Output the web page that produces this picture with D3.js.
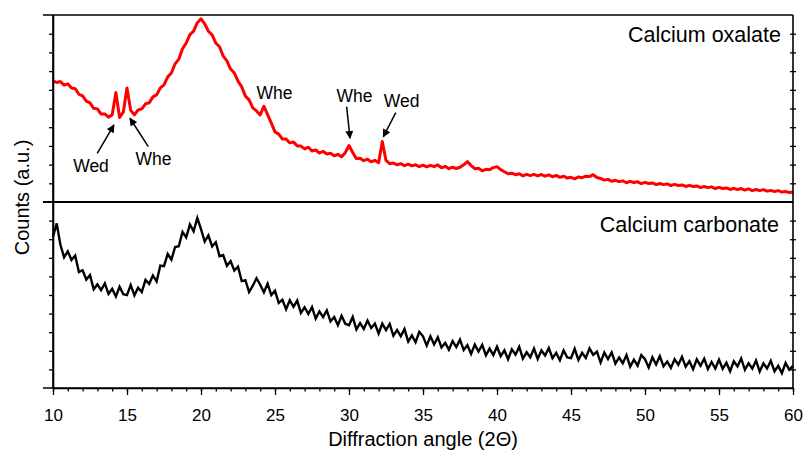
<!DOCTYPE html>
<html>
<head>
<meta charset="utf-8">
<script src="https://cdnjs.cloudflare.com/ajax/libs/d3/7.8.5/d3.min.js"></script>
<style>
  body { margin: 0; background: #fff; }
  svg { display: block; font-family: "Liberation Sans", Arial, sans-serif; }
</style>
</head>
<body>
<div id="chart"></div>
<script>
// XRD scans, 10-60 deg in 0.25 deg steps, intensity in a.u. (0-100 per panel)
const angleStart = 10, angleStep = 0.25;

const oxalateCounts = [
  64.8, 63.9, 64.4, 62.5, 63.2, 61.0, 60.6, 57.6, 56.8, 53.9, 53.0, 50.1, 49.8, 47.0, 47.1, 45.4, 46.6, 58.5, 45.2, 48.0,
  61.0, 49.0, 46.6, 49.2, 49.8, 52.5, 53.0, 56.2, 57.3, 61.0, 62.6, 66.9, 69.0, 73.9, 76.4, 81.9, 85.0, 89.5, 91.4, 95.9,
  98.0, 95.3, 91.3, 89.4, 85.0, 83.0, 78.0, 75.5, 71.1, 69.0, 64.6, 61.6, 56.6, 54.6, 50.3, 48.7, 46.6, 51.2, 46.7, 42.2,
  37.5, 36.3, 33.7, 33.7, 31.6, 32.1, 30.0, 29.9, 28.4, 29.3, 27.3, 27.8, 26.2, 27.1, 25.7, 26.1, 24.7, 25.5, 24.2, 26.4,
  30.2, 26.5, 23.2, 23.4, 22.1, 22.9, 21.5, 22.3, 21.0, 32.4, 22.2, 20.5, 20.8, 19.9, 20.5, 19.4, 20.2, 19.3, 19.9, 18.9,
  19.7, 18.8, 19.6, 18.9, 19.8, 18.3, 19.1, 17.8, 18.6, 17.9, 18.6, 19.9, 21.6, 19.5, 17.8, 18.0, 16.7, 17.5, 17.2, 18.4,
  18.9, 17.3, 16.2, 15.1, 15.4, 14.6, 15.1, 14.0, 14.8, 14.1, 14.8, 14.0, 14.7, 13.8, 14.5, 13.5, 14.2, 13.2, 13.8, 12.8,
  13.2, 12.4, 13.4, 13.0, 13.8, 13.6, 14.6, 13.1, 12.6, 11.7, 12.1, 11.1, 11.6, 10.9, 11.3, 10.3, 11.0, 10.4, 10.8, 9.8,
  10.5, 9.9, 10.2, 9.3, 9.9, 9.3, 9.7, 8.8, 9.4, 8.8, 9.1, 8.3, 8.9, 8.3, 8.6, 7.7, 8.3, 7.7, 8.1, 7.2,
  7.8, 7.2, 7.5, 6.7, 7.3, 6.7, 7.2, 6.4, 7.0, 6.1, 6.7, 6.1, 6.6, 5.8, 6.2, 5.6, 6.1, 5.3, 5.6, 5.1,
  5.4
];

const carbonateCounts = [
  81.3, 88.5, 77.0, 70.3, 73.5, 68.8, 71.2, 62.4, 63.3, 58.3, 60.7, 53.1, 55.7, 52.6, 56.2, 50.6, 53.3, 49.2, 54.4, 50.4,
  49.9, 55.4, 49.8, 53.9, 51.6, 58.1, 56.0, 60.5, 57.3, 65.8, 65.5, 72.1, 69.0, 75.8, 76.2, 83.9, 80.9, 88.0, 84.3, 91.5,
  85.4, 78.7, 82.1, 76.1, 78.4, 70.9, 71.5, 65.7, 68.2, 63.1, 65.2, 57.5, 58.0, 51.6, 55.0, 59.0, 55.5, 51.4, 56.1, 50.0,
  52.3, 45.7, 47.4, 42.3, 47.2, 43.6, 47.0, 40.4, 43.4, 39.8, 43.5, 37.3, 41.2, 38.1, 41.7, 35.8, 38.2, 33.8, 38.8, 34.5,
  33.8, 38.2, 31.5, 34.9, 31.7, 36.3, 32.3, 34.6, 29.3, 34.6, 31.1, 34.5, 28.1, 31.2, 27.8, 31.7, 25.0, 28.3, 24.6, 30.2,
  27.8, 22.8, 27.8, 23.4, 27.3, 21.8, 24.2, 20.6, 25.2, 22.0, 26.0, 20.4, 23.0, 18.3, 23.3, 19.6, 23.2, 17.6, 21.2, 17.7,
  22.2, 17.1, 20.2, 15.5, 20.8, 17.9, 22.1, 15.8, 19.2, 16.5, 21.2, 15.6, 20.2, 17.5, 21.5, 16.0, 18.9, 14.9, 20.2, 16.4,
  16.0, 21.1, 15.1, 18.9, 16.1, 21.3, 17.8, 19.6, 13.7, 19.0, 15.5, 19.1, 13.1, 16.4, 13.3, 17.7, 11.5, 15.2, 12.0, 17.7,
  15.5, 11.0, 16.5, 12.6, 17.1, 11.7, 14.2, 10.8, 15.5, 12.5, 16.8, 11.5, 14.4, 10.1, 15.4, 11.9, 15.7, 10.2, 14.0, 10.5,
  15.2, 10.3, 13.6, 9.0, 14.4, 11.6, 15.9, 9.8, 13.3, 10.4, 14.8, 8.9, 13.2, 10.5, 14.6, 9.0, 11.9, 8.0, 13.5, 9.8,
  12.0
];

const xTicks = [10, 15, 20, 25, 30, 35, 40, 45, 50, 55, 60];
const yTicks = [10, 20, 30, 40, 50, 60, 70, 80, 90];
const panelNames = ["Calcium oxalate", "Calcium carbonate"];

// peak labels on the oxalate scan: text anchor and optional arrow (angle, a.u.)
const peakLabels = [
  { text: "Wed", x: 12.57, y: 16.3, from: [12.99, 26.0], to: [14.12, 41.2] },
  { text: "Whe", x: 16.79, y: 19.8, from: [16.44, 29.6], to: [15.20, 44.8] },
  { text: "Whe", x: 24.97, y: 54.9 },
  { text: "Whe", x: 30.37, y: 53.6, from: [29.84, 51.0], to: [30.07, 34.1] },
  { text: "Wed", x: 33.55, y: 51.0, from: [33.16, 47.8], to: [32.32, 34.9] }
];

const width = 806, height = 460;
const plotLeft = 53, plotRight = 793, plotTop = 15, plotMid = 202, plotBottom = 388;

const svg = d3.select('#chart').append('svg')
  .attr('width', width)
  .attr('height', height);

const x = d3.scaleLinear().domain([10, 60]).range([plotLeft, plotRight]);
const yTop = d3.scaleLinear().domain([0, 100]).range([plotMid, plotTop]);
const yBot = d3.scaleLinear().domain([0, 100]).range([plotBottom, plotMid]);

const toPoints = vals => vals.map((v, i) => ({ angle: angleStart + i * angleStep, value: v }));

// arrow head
svg.append('defs').append('marker')
  .attr('id', 'head')
  .attr('viewBox', '0 0 10 10')
  .attr('refX', 9).attr('refY', 5)
  .attr('markerWidth', 10).attr('markerHeight', 8)
  .attr('markerUnits', 'userSpaceOnUse')
  .attr('orient', 'auto')
  .append('path').attr('d', 'M0,0 L10,5 L0,10 z').attr('fill', '#000');

// data lines
svg.append('path')
  .datum(toPoints(oxalateCounts))
  .attr('fill', 'none')
  .attr('stroke', '#ff0000')
  .attr('stroke-width', 3)
  .attr('stroke-linejoin', 'round')
  .attr('d', d3.line().x(d => x(d.angle)).y(d => yTop(d.value)));

svg.append('path')
  .datum(toPoints(carbonateCounts))
  .attr('fill', 'none')
  .attr('stroke', '#000')
  .attr('stroke-width', 2.4)
  .attr('d', d3.line().x(d => x(d.angle)).y(d => yBot(d.value)));

// y ticks, left (outside) and right (across the frame)
[yTop, yBot].forEach(y => {
  svg.append('g')
    .attr('transform', `translate(${plotLeft},0)`)
    .call(d3.axisLeft(y).tickValues(yTicks).tickSize(4).tickFormat('').tickSizeOuter(0));
  svg.append('g')
    .attr('transform', `translate(${plotRight + 3},0)`)
    .call(d3.axisLeft(y).tickValues(yTicks).tickSize(6).tickFormat('').tickSizeOuter(0))
    .select('.domain').remove();
});

// x axis: minor ticks every degree, labelled major ticks every 5
svg.append('g')
  .attr('transform', `translate(0,${plotBottom})`)
  .call(d3.axisBottom(x).tickValues(d3.range(10, 61)).tickSize(3.5).tickFormat('').tickSizeOuter(0))
  .select('.domain').remove();
const xAxis = svg.append('g')
  .attr('transform', `translate(0,${plotBottom})`)
  .call(d3.axisBottom(x).tickValues(xTicks).tickSize(7).tickSizeOuter(0).tickPadding(14));
xAxis.selectAll('text').attr('font-size', 17).attr('fill', '#000').attr('font-family', '"Liberation Sans", Arial, sans-serif');

svg.selectAll('.tick line').attr('stroke', '#000').attr('stroke-width', 1.3);
svg.selectAll('.domain').attr('stroke', '#000').attr('stroke-width', 1.6);

// frame lines
[plotTop, plotMid, plotBottom].forEach(yy => {
  svg.append('line').attr('x1', plotLeft - 10).attr('x2', plotRight).attr('y1', yy).attr('y2', yy)
    .attr('stroke', '#000').attr('stroke-width', yy === plotMid ? 2 : 1.6);
});
svg.append('line').attr('x1', plotRight).attr('x2', plotRight).attr('y1', plotTop).attr('y2', plotBottom)
  .attr('stroke', '#000').attr('stroke-width', 1.6);
svg.append('line').attr('x1', plotLeft).attr('x2', plotLeft).attr('y1', plotTop).attr('y2', plotBottom)
  .attr('stroke', '#000').attr('stroke-width', 1.6);

// panel names
svg.append('text').attr('x', plotRight - 12).attr('y', plotTop + 27)
  .attr('text-anchor', 'end').attr('font-size', 21.5).text(panelNames[0]);
svg.append('text').attr('x', plotRight - 14).attr('y', plotMid + 30)
  .attr('text-anchor', 'end').attr('font-size', 21.5).text(panelNames[1]);

// peak annotations
peakLabels.forEach(p => {
  svg.append('text').attr('x', x(p.x)).attr('y', yTop(p.y))
    .attr('text-anchor', 'middle').attr('font-size', 17.5).text(p.text);
  if (p.from) {
    svg.append('line')
      .attr('x1', x(p.from[0])).attr('y1', yTop(p.from[1]))
      .attr('x2', x(p.to[0])).attr('y2', yTop(p.to[1]))
      .attr('stroke', '#000').attr('stroke-width', 1.5)
      .attr('marker-end', 'url(#head)');
  }
});

// axis titles
svg.append('text')
  .attr('transform', `translate(29,${(plotTop + plotBottom) / 2 - 4}) rotate(-90)`)
  .attr('text-anchor', 'middle').attr('font-size', 20).text('Counts (a.u.)');
svg.append('text')
  .attr('x', (plotLeft + plotRight) / 2).attr('y', 446)
  .attr('text-anchor', 'middle').attr('font-size', 20).text('Diffraction angle (2Θ)');
</script>
</body>
</html>
